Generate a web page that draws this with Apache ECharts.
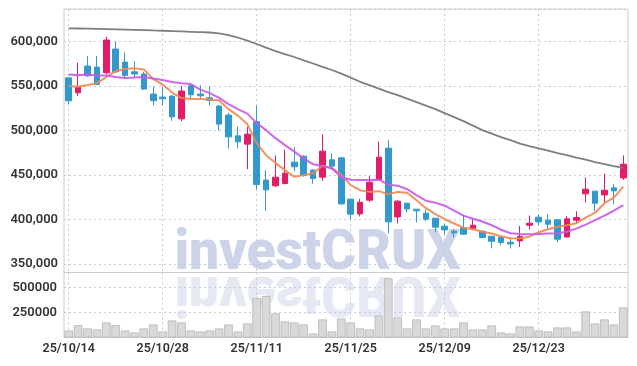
<!DOCTYPE html>
<html><head><meta charset="utf-8">
<script src="https://cdn.jsdelivr.net/npm/echarts@6/dist/echarts.min.js"></script>
<style>html,body{margin:0;padding:0;background:#fff}#c{width:637px;height:366px}</style>
</head><body><div id="c"></div>
<script>
const dates = ['25/10/14','25/10/15','25/10/16','25/10/17','25/10/20','25/10/21','25/10/22','25/10/23','25/10/24','25/10/27',
'25/10/28','25/10/29','25/10/30','25/10/31','25/11/03','25/11/04','25/11/05','25/11/06','25/11/07','25/11/10',
'25/11/11','25/11/12','25/11/13','25/11/14','25/11/17','25/11/18','25/11/19','25/11/20','25/11/21','25/11/24',
'25/11/25','25/11/26','25/11/27','25/11/28','25/12/01','25/12/02','25/12/03','25/12/04','25/12/05','25/12/08',
'25/12/09','25/12/10','25/12/11','25/12/12','25/12/15','25/12/16','25/12/17','25/12/18','25/12/19','25/12/22',
'25/12/23','25/12/24','25/12/26','25/12/29','25/12/30','26/01/02','26/01/05','26/01/06','26/01/07','26/01/08'];

const opens = [559000,542200,572200,571100,564700,591300,576700,565800,563300,540800,
537400,538500,513000,550100,540800,536600,527300,517200,493900,484600,
509700,444200,437800,440400,464400,471100,455400,447500,467000,469200,
422800,406300,421700,444900,480100,402900,418300,411600,407100,401500,
392500,386900,391000,389900,386900,381200,379800,374500,376000,393600,
402600,399200,399600,380400,399200,428800,431800,427600,435500,446700];
const closes = [533300,548700,561300,551700,601500,565800,561800,563300,546400,533300,
535500,515300,544200,540000,538900,533700,507100,492800,487200,495800,
439300,433300,447500,452000,459100,449400,446100,476700,459900,417500,
406000,419400,441900,470000,397300,420600,411900,409700,400300,391400,
388300,385000,383500,393600,379800,375600,374200,372600,381200,395800,
397300,394700,377900,400700,402200,434000,418300,432900,432100,462100];
const lows = [529500,538500,560200,550900,562900,564700,559600,559600,545300,528100,
528100,510800,510400,534800,534800,528100,500000,479800,479800,456500,
433700,409700,436600,439300,454300,448000,440000,443400,455400,416800,
400300,403400,419800,444200,384300,395500,407900,396600,398100,385700,
383100,379800,383000,388000,379000,367700,371100,367400,369200,388800,
393600,389400,374500,379800,395500,419100,409300,418700,417200,444500];
const highs = [559000,576000,583500,583500,605200,600000,587600,577500,565800,549000,
549000,540000,549800,552800,550600,549400,528400,519800,504500,504100,
527600,455400,471900,478700,481200,472200,456500,495500,474200,469200,
423600,423100,448700,487600,489100,421700,418300,411600,411200,401500,
395500,389400,405200,400700,387500,381200,381600,379800,392800,404500,
405600,406000,400300,403700,409300,447200,431800,451700,439700,471900];

const volumes = [70000,123000,90000,80000,150000,123000,70000,50000,90000,130000,
60000,170000,150000,70000,60000,70000,90000,130000,60000,140000,
393000,413000,240000,160000,150000,130000,40000,180000,60000,190000,
150000,90000,80000,220000,590000,200000,90000,180000,90000,120000,
90000,90000,150000,80000,80000,120000,50000,40000,110000,110000,
70000,60000,100000,100000,60000,260000,140000,180000,130000,300000];

const ma5 = [549800,549000,550900,553100,559900,566600,568900,569700,568500,557600,
551500,542500,536300,535200,535200,534800,533500,523900,516600,507100,
485700,472200,463300,455400,447900,449800,452000,460400,457600,450100,
438500,432900,431000,431800,428400,431000,430100,421700,412700,406000,
400300,395500,390800,389100,386300,384300,381200,379000,378600,380700,
385700,389100,391900,393600,395800,402000,407600,418300,424500,436900];
const ma20 = [562700,561900,562900,561600,561600,559900,558800,559300,559900,558200,
556700,554300,552900,552000,545800,541900,536500,529600,523900,518900,
508200,500300,491300,483500,476200,468300,462100,459900,457600,447500,
444700,444400,444200,444700,439100,438000,434000,427300,421100,418900,
415500,409900,404300,400900,397800,393600,388500,384500,383700,383500,
383800,384300,384600,386300,389700,394200,399200,404300,409900,416100];
const ma120 = [614600,614400,614200,614000,613800,613500,613200,612900,612600,612200,
611900,611500,611100,610700,610300,609900,609000,607100,604300,600900,
597000,593000,589100,585700,582400,578700,575100,571300,567800,563800,
559300,554600,550900,547000,543000,539700,535700,531800,527900,523900,
519400,514900,510400,505400,500300,496400,492500,489100,485200,482400,
479800,477300,474500,472200,469400,467200,464400,462100,459900,458000];

const candleData = dates.map((d, i) => [opens[i], closes[i], lows[i], highs[i]]);

const UP = '#e31c6a', DOWN = '#3399cc';
const gridLine = {show: true, lineStyle: {color: '#c5cadc', type: [2, 3], width: 1}};
const labelFont = {fontFamily: 'Roboto', fontSize: 13, fontWeight: 600, color: '#333'};
const wmStyle = {text: 'investCRUX', font: '900 55px Roboto, "DejaVu Sans", sans-serif',
  fill: '#cdd3e8', textAlign: 'center', textVerticalAlign: 'bottom'};

const chart = echarts.init(document.getElementById('c'), null, {renderer: 'canvas'});
chart.setOption({
  animation: false,
  backgroundColor: '#fff',
  graphic: [
    {type: 'text', z: -10, x: 317.5, y: 283, scaleX: 0.97, style: Object.assign({}, wmStyle)},
    {type: 'text', z: -10, x: 317.5, y: 263, scaleX: 0.97, scaleY: -1, style: Object.assign({}, wmStyle, {opacity: 0.5})}
  ],
  grid: [
    {left: 64, right: 9, top: 9, height: 263.5, show: true, borderColor: '#cccccc', borderWidth: 1, backgroundColor: 'transparent'},
    {left: 64, right: 9, top: 272.5, height: 65, show: true, borderColor: '#cccccc', borderWidth: 1, backgroundColor: 'transparent'}
  ],
  xAxis: [
    {type: 'category', gridIndex: 0, data: dates, boundaryGap: true,
     axisLine: {show: false}, axisTick: {show: false}, axisLabel: {show: false},
     splitLine: Object.assign({interval: 9, alignWithLabel: true}, gridLine)},
    {type: 'category', gridIndex: 1, data: dates, boundaryGap: true,
     axisLine: {show: false}, axisTick: {show: false},
     axisLabel: Object.assign({interval: 9, margin: 5}, labelFont, {fontSize: 12.5}),
     splitLine: Object.assign({interval: 9, alignWithLabel: true}, gridLine)}
  ],
  yAxis: [
    {type: 'value', gridIndex: 0, min: 340500, max: 636300, scale: true,
     axisLine: {show: false}, axisTick: {show: false},
     axisLabel: Object.assign({margin: 6, showMinLabel: false, showMaxLabel: false,
       formatter: v => v.toLocaleString('en-US')}, labelFont),
     splitLine: gridLine},
    {type: 'value', gridIndex: 1, min: 0, max: 648000, interval: 250000,
     axisLine: {show: false}, axisTick: {show: false},
     axisLabel: Object.assign({margin: 7, showMinLabel: false, showMaxLabel: false,
       formatter: v => String(v)}, labelFont),
     splitLine: gridLine}
  ],
  series: [
    {type: 'candlestick', name: 'price', xAxisIndex: 0, yAxisIndex: 0, data: candleData, barWidth: '64%',
     itemStyle: {color: UP, color0: DOWN, borderColor: UP, borderColor0: DOWN, borderWidth: 1}, z: 3},
    {type: 'line', name: 'MA5', xAxisIndex: 0, yAxisIndex: 0, data: ma5, symbol: 'none',
     lineStyle: {color: '#f08850', width: 2, opacity: 0.9}, z: 4},
    {type: 'line', name: 'MA20', xAxisIndex: 0, yAxisIndex: 0, data: ma20, symbol: 'none',
     lineStyle: {color: '#c957ea', width: 2, opacity: 0.9}, z: 4},
    {type: 'line', name: 'MA120', xAxisIndex: 0, yAxisIndex: 0, data: ma120, symbol: 'none',
     lineStyle: {color: '#7f7f7f', width: 1.8}, z: 4},
    {type: 'bar', name: 'volume', xAxisIndex: 1, yAxisIndex: 1, data: volumes, barWidth: '92%',
     itemStyle: {color: '#d9d9d9', borderColor: '#b5b5b5', borderWidth: 0.8}, z: 3}
  ]
});
</script></body></html>
